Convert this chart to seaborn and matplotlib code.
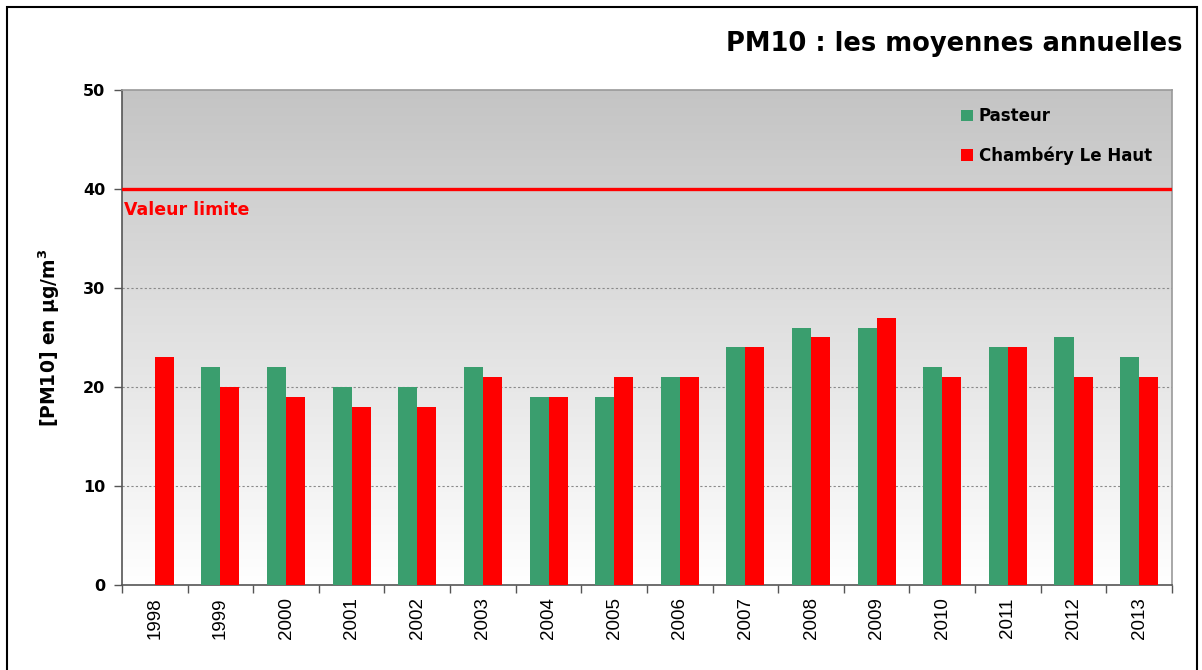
import numpy as np
import pandas as pd
import matplotlib
matplotlib.use("Agg")
import matplotlib.pyplot as plt
import seaborn as sns
from matplotlib.patches import Rectangle
from matplotlib.ticker import FixedLocator

YEARS = ["1998", "1999", "2000", "2001", "2002", "2003", "2004", "2005",
         "2006", "2007", "2008", "2009", "2010", "2011", "2012", "2013"]
PASTEUR = [np.nan, 22, 22, 20, 20, 22, 19, 19, 21, 24, 26, 26, 22, 24, 25, 23]
CHAMBERY = [23, 20, 19, 18, 18, 21, 19, 21, 21, 24, 25, 27, 21, 24, 21, 21]
SERIES = ["Pasteur", "Chambéry Le Haut"]
COLORS = ["#3a9e6e", "#ff0000"]
LIMIT = 40

df = pd.DataFrame({
    "year": YEARS * 2,
    "value": PASTEUR + CHAMBERY,
    "station": [SERIES[0]] * len(YEARS) + [SERIES[1]] * len(YEARS),
})

sns.set_style("white", {"text.color": "black", "axes.labelcolor": "black",
                        "xtick.color": "black", "ytick.color": "black"})
plt.rcParams["font.family"] = ["DejaVu Sans"]

fig = plt.figure(figsize=(12.02, 6.70), dpi=100)
ax = fig.add_axes([0.1015, 0.1269, 0.8735, 0.7388])

# gradient background (grey top -> white bottom)
grad = np.linspace(196, 255, 256)[::-1].reshape(-1, 1) / 255.0
ax.imshow(np.dstack([grad, grad, grad]), extent=[0, 1, 0, 1],
          transform=ax.transAxes, aspect="auto", zorder=0, origin="lower")

sns.barplot(data=df, x="year", y="value", hue="station", palette=COLORS,
            width=0.58, gap=0, ax=ax, zorder=3, saturation=1,
            edgecolor="none", linewidth=0)

ax.set_xlim(-0.5, len(YEARS) - 0.5)
ax.set_ylim(0, 50)
ax.set_yticks([0, 10, 20, 30, 40, 50])
for y in [10, 20, 30]:
    ax.axhline(y, color="#8a8a8a", ls=(0, (2, 2)), lw=0.8, zorder=1)

ax.axhline(LIMIT, color="#ff0000", lw=2.4, zorder=4)
ax.text(0.002, 37.9, "Valeur limite", color="#ff0000", fontsize=12.5,
        fontweight="bold", ha="left", va="center",
        transform=ax.get_yaxis_transform(), zorder=5)

# spines
for s in ["left", "bottom"]:
    ax.spines[s].set_color("#555555")
    ax.spines[s].set_linewidth(1.2)
for s in ["top", "right"]:
    ax.spines[s].set_color("#999999")
    ax.spines[s].set_linewidth(1.2)

ax.tick_params(axis="y", direction="out", length=6, width=1, color="#555555",
               left=True, labelsize=11.5, pad=6, labelcolor="black")
for lab in ax.get_yticklabels():
    lab.set_fontweight("bold")

ax.set_xticks(range(len(YEARS)))
ax.set_xticklabels(YEARS, rotation=90, fontsize=13.5,
                   fontfamily="Liberation Sans", color="black")
ax.tick_params(axis="x", which="major", length=0, pad=9)
ax.xaxis.set_minor_locator(FixedLocator(np.arange(-0.5, len(YEARS), 1)))
ax.tick_params(axis="x", which="minor", direction="out", length=6, width=1,
               color="#555555", bottom=True)

ax.set_xlabel("")
ax.set_ylabel("[PM10] en µg/m$^{\\mathbf{3}}$", fontsize=13.5,
              fontweight="bold", labelpad=15, color="black")

leg = ax.legend(loc="upper right", bbox_to_anchor=(0.995, 0.995),
                frameon=False, fontsize=12, handlelength=0.7,
                handleheight=0.7, handletextpad=0.35, labelspacing=1.25)
for t in leg.get_texts():
    t.set_fontweight("bold")
    t.set_color("black")

fig.text(0.984, 0.935, "PM10 : les moyennes annuelles", ha="right",
         va="center", fontsize=18.5, fontweight="bold", color="black")

# outer frame
fig.patches.append(Rectangle((7 / 1202, -0.05), 1190 / 1202, 1.05 - 7 / 670,
                             transform=fig.transFigure, fill=False,
                             edgecolor="black", lw=1.5))

fig.savefig("out.png", dpi=100)
